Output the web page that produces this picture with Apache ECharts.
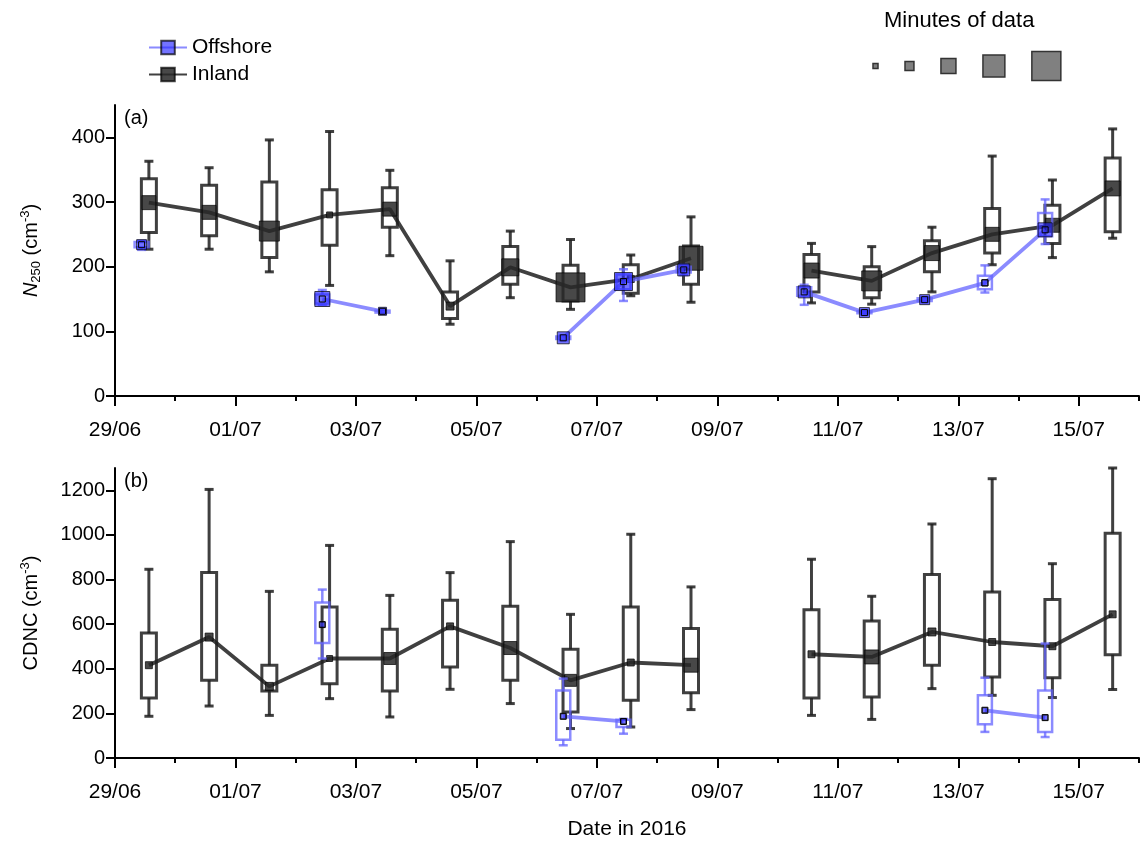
<!DOCTYPE html>
<html>
<head>
<meta charset="utf-8">
<script src="https://cdn.jsdelivr.net/npm/echarts@6/dist/echarts.min.js"></script>
<style>
html, body { margin: 0; padding: 0; background: #fff; }
#main { width: 1141px; height: 841px; }
</style>
</head>
<body>
<div id="main"></div>
<script>
// days shown on the x axis (day 0 = 29/06)
var dayLabels = ['29/06', '30/06', '01/07', '02/07', '03/07', '04/07', '05/07', '06/07', '07/07',
    '08/07', '09/07', '10/07', '11/07', '12/07', '13/07', '14/07', '15/07'];
// hour of day the daily box is plotted at
var inlandHour = 13.5;
var offshoreHour = 10.6;

// [low whisker, Q1, median, Q3, high whisker] per day, null = no data
var inlandN250 = [
    [227, 253, 299, 336, 363], [227, 248, 284, 326, 353], [192, 214, 255, 331, 396],
    [171, 233, 280, 319, 409], [217, 261, 289, 322, 349], [111, 120, 139, 161, 209],
    [152, 173, 199, 231, 255], [134, 147, 168, 202, 242], [155, 159, 181, 203, 218],
    [145, 173, 213, 232, 277], null, [144, 161, 194, 219, 236],
    [142, 152, 178, 200, 231], [161, 192, 221, 240, 261], [203, 221, 250, 290, 371],
    [214, 236, 264, 295, 334], [244, 254, 321, 368, 413]
];
var inlandN250Min = [196, 196, 400, 36, 196, 64, 289, 840, 50, 576, null, 225, 400, 225, 196, 196, 225];

var offshoreN250 = [
    [226, 230, 234, 238, 240], null, null,
    [141, 143, 150, 157, 164], [128, 129, 131, 132, 133], null, null,
    [86, 88, 90, 92, 94], [147, 165, 177, 188, 196], [187, 191, 195, 200, 203], null,
    [141, 155, 161, 168, 172], [126, 128, 129, 131, 132], [145, 147, 149, 151, 153],
    [160, 165, 175, 186, 202], [235, 247, 257, 283, 304], null
];
var offshoreN250Min = [100, null, null, 225, 64, null, null, 144, 324, 144, null, 144, 100, 100, 40, 196, null];

var inlandCDNC = [
    [187, 269, 416, 560, 846], [233, 348, 542, 831, 1204], [191, 300, 321, 416, 747],
    [266, 333, 446, 677, 953], [184, 300, 446, 577, 729], [308, 408, 590, 707, 831],
    [244, 348, 493, 680, 970], [132, 206, 348, 487, 644], [139, 259, 428, 677, 1003],
    [217, 293, 416, 580, 767], null, [191, 269, 465, 665, 891],
    [173, 273, 453, 614, 725], [311, 416, 565, 823, 1049], [281, 363, 520, 744, 1252],
    [271, 360, 501, 711, 871], [307, 463, 644, 1008, 1300]
];
var inlandCDNCMin = [49, 64, 64, 36, 144, 49, 169, 144, 49, 196, null, 49, 196, 64, 49, 49, 49];

var offshoreCDNC = [
    null, null, null, [446, 515, 598, 697, 755], null, null, null,
    [57, 82, 187, 303, 356], [109, 139, 164, 172, 175], null, null, null, null, null,
    [117, 151, 214, 281, 360], [94, 117, 181, 303, 513], null
];
var offshoreCDNCMin = [null, null, null, 25, null, null, null, 25, 25, null, null, null, null, null, 25, 25, null];

var n250Ticks = [0, 100, 200, 300, 400];
var cdncTicks = [0, 200, 400, 600, 800, 1000, 1200];
// minutes shown in the "Minutes of data" key
var legendMinutes = [25, 80, 225, 480, 840];

var FONT = 'Liberation Sans, Arial, sans-serif';
var INLAND = 'rgba(30,30,30,0.85)';
var OFFSHORE = 'rgba(100,100,255,0.75)';
var OFFSHORE_MARK = 'rgba(40,40,255,0.65)';
var INLAND_MARK = 'rgba(40,40,40,0.85)';

// marker side grows with the square root of the minutes of data
var minuteSize = function (m) {
    return Math.sqrt(m);
};

var majorTicks = [], minorTicks = [];
for (var i = 0; i <= dayLabels.length; i++) {
    if (i % 2 == 0) majorTicks.push(i); else minorTicks.push(i);
}

var boxData = function (arr, hour) {
    var out = [];
    for (var i = 0; i < arr.length; i++) {
        if (arr[i]) out.push([i + hour / 24].concat(arr[i]));
    }
    return out;
};
var medianData = function (arr, mins, hour) {
    var out = [];
    for (var i = 0; i < arr.length; i++) {
        if (arr[i]) out.push([i + hour / 24, arr[i][2], mins[i]]);
        else out.push([i + hour / 24, '-', 0]);
    }
    return out;
};

var renderBox = function (width, color, lw) {
    return function (params, api) {
        var x = api.value(0);
        var lo = api.coord([x, api.value(1)]);
        var q1 = api.coord([x, api.value(2)]);
        var q3 = api.coord([x, api.value(4)]);
        var hi = api.coord([x, api.value(5)]);
        var cx = lo[0], half = width / 2, cap = 4.5;
        var st = function () { return { stroke: color, lineWidth: lw, fill: 'none' }; };
        return {
            type: 'group',
            children: [
                { type: 'rect', shape: { x: cx - half, y: q3[1], width: width, height: q1[1] - q3[1] }, style: st() },
                { type: 'line', shape: { x1: cx, y1: q3[1], x2: cx, y2: hi[1] }, style: st() },
                { type: 'line', shape: { x1: cx, y1: q1[1], x2: cx, y2: lo[1] }, style: st() },
                { type: 'line', shape: { x1: cx - cap, y1: hi[1], x2: cx + cap, y2: hi[1] }, style: st() },
                { type: 'line', shape: { x1: cx - cap, y1: lo[1], x2: cx + cap, y2: lo[1] }, style: st() }
            ]
        };
    };
};

var makeX = function (grid, withName) {
    var main = {
        type: 'value', gridIndex: grid, min: 0, max: dayLabels.length, position: 'bottom',
        axisLine: { show: true, lineStyle: { color: '#000', width: 2 } },
        axisTick: { customValues: majorTicks, length: 10, lineStyle: { color: '#000', width: 2 } },
        axisLabel: {
            customValues: majorTicks, margin: 24, color: '#000', fontSize: 21, fontFamily: FONT,
            formatter: function (v) { return dayLabels[v] || ''; }
        },
        splitLine: { show: false }
    };
    if (withName) {
        main.name = 'Date in 2016';
        main.nameLocation = 'middle';
        main.nameGap = 61;
        main.nameTextStyle = { color: '#000', fontSize: 21, fontFamily: FONT };
    }
    var minor = {
        type: 'value', gridIndex: grid, min: 0, max: dayLabels.length, position: 'bottom',
        axisLine: { show: false },
        axisTick: { customValues: minorTicks, length: 5, lineStyle: { color: '#000', width: 2 } },
        axisLabel: { show: false },
        splitLine: { show: false }
    };
    return [main, minor];
};

var nameRich = {
    n: { fontSize: 20, fontFamily: FONT, color: '#000', lineHeight: 24 },
    i: { fontSize: 20, fontFamily: FONT, color: '#000', fontStyle: 'italic', lineHeight: 24 },
    sub: { fontSize: 13, fontFamily: FONT, color: '#000', lineHeight: 12, verticalAlign: 'bottom' },
    sup: { fontSize: 13, fontFamily: FONT, color: '#000', lineHeight: 12, verticalAlign: 'top' }
};

var makeY = function (grid, max, ticks, name) {
    return {
        type: 'value', gridIndex: grid, min: 0, max: max,
        axisLine: { show: true, lineStyle: { color: '#000', width: 2 } },
        axisTick: { show: true, customValues: ticks, length: 9, lineStyle: { color: '#000', width: 2 } },
        axisLabel: {
            customValues: ticks, margin: 10, color: '#000', fontSize: 20, fontFamily: FONT,
            formatter: function (v) { return String(v); }
        },
        splitLine: { show: false },
        name: name, nameLocation: 'middle', nameGap: 72, nameRotate: 90,
        nameTextStyle: { rich: nameRich }
    };
};

var lineSeries = function (name, xi, yi, data, color, markColor, z) {
    return {
        name: name, type: 'line', xAxisIndex: xi, yAxisIndex: yi, z: z,
        data: data, encode: { x: 0, y: 1 },
        connectNulls: false, symbol: 'rect',
        symbolSize: function (v) { return minuteSize(v[2]); },
        lineStyle: { color: color, width: 3.8 },
        itemStyle: { color: markColor, borderColor: 'rgba(0,0,0,0.7)', borderWidth: 1 },
        emphasis: { disabled: true }, animation: false
    };
};
var boxSeries = function (name, xi, yi, data, width, color, lw, z) {
    return {
        name: name, type: 'custom', xAxisIndex: xi, yAxisIndex: yi, z: z,
        data: data, encode: { x: 0, y: [1, 2, 3, 4, 5] },
        renderItem: renderBox(width, color, lw), animation: false
    };
};
var dotSeries = function (name, xi, yi, data, z) {
    return {
        name: name, type: 'scatter', xAxisIndex: xi, yAxisIndex: yi, z: z,
        data: data.filter(function (d) { return d[1] !== '-'; }), encode: { x: 0, y: 1 },
        symbol: 'rect', symbolSize: 6,
        itemStyle: { color: 'rgba(0,0,0,0)', borderColor: '#000', borderWidth: 1, opacity: 1 },
        emphasis: { disabled: true }, animation: false
    };
};

// "Minutes of data" key
var keyGraphics = [
    { type: 'text', left: 884, top: 10, style: { text: 'Minutes of data', fill: '#000', font: '22px ' + FONT } }
];
var kx = 873;
legendMinutes.forEach(function (m) {
    var s = minuteSize(m);
    keyGraphics.push({
        type: 'rect', shape: { x: kx, y: 66 - s / 2, width: s, height: s },
        style: { fill: '#808080', stroke: '#333', lineWidth: 1.5 }
    });
    kx += s + 27;
});
keyGraphics.push({ type: 'text', left: 124, top: 108, style: { text: '(a)', fill: '#000', font: '20px ' + FONT } });
keyGraphics.push({ type: 'text', left: 124, top: 471, style: { text: '(b)', fill: '#000', font: '20px ' + FONT } });

var myChart = echarts.init(document.getElementById('main'));
var option = {
    backgroundColor: '#fff',
    animation: false,
    legend: {
        data: ['Offshore', 'Inland'], orient: 'vertical', left: 143, top: 32,
        itemWidth: 38, itemHeight: 17, itemGap: 6,
        textStyle: { color: '#000', fontSize: 21, fontFamily: FONT },
        selectedMode: false
    },
    graphic: keyGraphics,
    grid: [
        { left: 115, right: 2, top: 105, height: 291 },
        { left: 115, right: 2, top: 468, height: 290 }
    ],
    xAxis: makeX(0, false).concat(makeX(1, true)),
    yAxis: [
        makeY(0, 450, n250Ticks, '{i|N}{sub|250}{n| (cm}{sup|-3}{n|)}'),
        makeY(1, 1300, cdncTicks, '{n|CDNC (cm}{sup|-3}{n|)}')
    ],
    series: [
        lineSeries('Offshore', 0, 0, medianData(offshoreN250, offshoreN250Min, offshoreHour), OFFSHORE, OFFSHORE_MARK, 5),
        lineSeries('Inland', 0, 0, medianData(inlandN250, inlandN250Min, inlandHour), INLAND, INLAND_MARK, 3),
        boxSeries('Inland', 0, 0, boxData(inlandN250, inlandHour), 15, INLAND, 3, 2),
        boxSeries('Offshore', 0, 0, boxData(offshoreN250, offshoreHour), 14, OFFSHORE, 2.5, 4),
        dotSeries('Offshore', 0, 0, medianData(offshoreN250, offshoreN250Min, offshoreHour), 6),

        lineSeries('Offshore', 2, 1, medianData(offshoreCDNC, offshoreCDNCMin, offshoreHour), OFFSHORE, OFFSHORE_MARK, 5),
        lineSeries('Inland', 2, 1, medianData(inlandCDNC, inlandCDNCMin, inlandHour), INLAND, INLAND_MARK, 3),
        boxSeries('Inland', 2, 1, boxData(inlandCDNC, inlandHour), 15, INLAND, 3, 2),
        boxSeries('Offshore', 2, 1, boxData(offshoreCDNC, offshoreHour), 14, OFFSHORE, 2.5, 4),
        dotSeries('Offshore', 2, 1, medianData(offshoreCDNC, offshoreCDNCMin, offshoreHour), 6)
    ]
};
myChart.setOption(option);
</script>
</body>
</html>
